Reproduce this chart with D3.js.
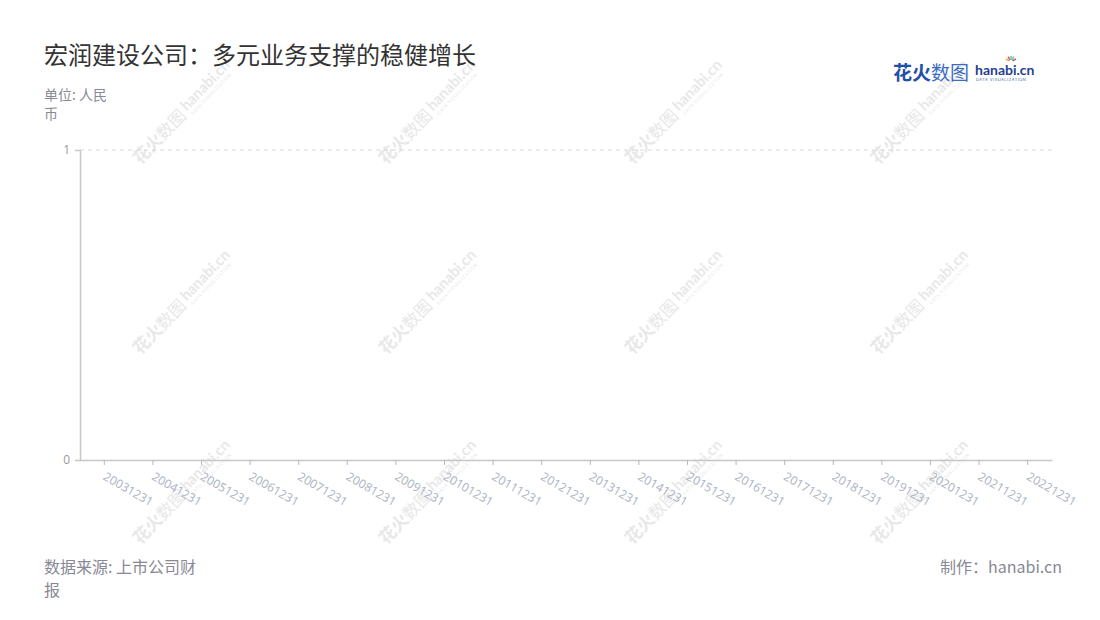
<!DOCTYPE html>
<html>
<head>
<meta charset="utf-8">
<script src="https://cdn.jsdelivr.net/npm/d3@7"></script>
<style>
  html, body { margin: 0; padding: 0; background: #fff; }
  svg { display: block; font-family: "Noto Sans CJK SC", "Noto Sans", sans-serif; }
</style>
</head>
<body>
<svg id="chart" width="1100" height="620"></svg>
<script>
// Data
const categories = ["20031231", "20041231", "20051231", "20061231", "20071231", "20081231",
    "20091231", "20101231", "20111231", "20121231", "20131231", "20141231", "20151231",
    "20161231", "20171231", "20181231", "20191231", "20201231", "20211231", "20221231"];
// no values shown in the chart, every period is empty
const values = [null, null, null, null, null, null, null, null, null, null,
    null, null, null, null, null, null, null, null, null, null];
const yTicks = [0, 1];

const title = "宏润建设公司：多元业务支撑的稳健增长";
const unitLines = ["单位: 人民", "币"];
const sourceLines = ["数据来源: 上市公司财", "报"];
const credit = "制作：hanabi.cn";

function drawChart() {
    const svg = d3.select("#chart");
    const margin = { left: 80, right: 48, top: 150, bottom: 160 };
    const width = 1100, height = 620;

    // Watermarks
    const wmCols = [181, 427, 673, 919];
    const wmRows = [113, 303, 493];
    const wm = svg.append("g").attr("class", "watermarks");
    wmRows.forEach(cy => wmCols.forEach(cx => {
        const g = wm.append("g")
            .attr("transform", `translate(${cx},${cy}) rotate(-46)`)
            .attr("fill", "#e8e8e8");
        g.append("text").attr("x", -66).attr("y", 7)
            .style("font-size", "17px").style("font-weight", "bold").text("花火");
        g.append("text").attr("x", -32).attr("y", 7)
            .style("font-size", "17px").text("数图");
        g.append("text").attr("x", 5).attr("y", 3)
            .style("font-size", "15px").style("font-weight", "bold")
            .style("font-family", "Lato, sans-serif").text("hanabi.cn");
        g.append("text").attr("x", 7).attr("y", 10)
            .style("font-size", "4.5px").style("letter-spacing", "0.5px")
            .style("font-family", "Inter, sans-serif").text("DATA VISUALIZATION");
    }));

    // Title and notes
    svg.append("text").attr("x", 44).attr("y", 64)
        .attr("fill", "#333").style("font-size", "24px").text(title);
    unitLines.forEach((t, i) => {
        svg.append("text").attr("x", 44).attr("y", 100 + i * 19)
            .attr("fill", "#8a8a96").style("font-size", "14px").text(t);
    });
    sourceLines.forEach((t, i) => {
        svg.append("text").attr("x", 44).attr("y", 573 + i * 23)
            .attr("fill", "#888896").style("font-size", "16px").text(t);
    });
    svg.append("text").attr("x", 1062).attr("y", 573).attr("text-anchor", "end")
        .attr("fill", "#888896").style("font-size", "16px").text(credit);

    // Logo
    const logo = svg.append("g").attr("transform", "translate(893,80)");
    logo.append("text").attr("x", 0).attr("y", 0).attr("fill", "#1f4fa8")
        .style("font-size", "19px").style("font-weight", "bold").text("花火");
    logo.append("text").attr("x", 38).attr("y", 0).attr("fill", "#3a6cc4")
        .style("font-size", "19px").text("数图");
    logo.append("text").attr("x", 82).attr("y", -5).attr("fill", "#1f3f8f")
        .style("font-size", "14px").style("font-weight", "bold")
        .style("font-family", "Lato, sans-serif").text("hanabi.cn");
    logo.append("text").attr("x", 83).attr("y", 1).attr("fill", "#4a6aa8")
        .style("font-size", "4px").style("letter-spacing", "0.5px")
        .style("font-family", "Inter, sans-serif").text("DATA VISUALIZATION");
    const sparks = ["#f5a623", "#e94e77", "#4cc3d9", "#7ed321", "#9b59b6"];
    sparks.forEach((c, i) => {
        const a = -Math.PI / 2 + (i - 2) * 0.5;
        logo.append("line")
            .attr("x1", 118 + Math.cos(a) * 2).attr("y1", -18 + Math.sin(a) * 2)
            .attr("x2", 118 + Math.cos(a) * 6).attr("y2", -18 + Math.sin(a) * 6)
            .attr("stroke", c).attr("stroke-width", 1.5);
    });

    // Scales
    const x = d3.scaleBand()
        .domain(categories)
        .range([margin.left, width - margin.right]);
    const y = d3.scaleLinear()
        .domain(d3.extent(yTicks))
        .range([height - margin.bottom, margin.top]);

    // Grid
    svg.append("g")
        .selectAll("line")
        .data(yTicks.filter(d => d > 0))
        .join("line")
        .attr("x1", margin.left).attr("x2", width - margin.right)
        .attr("y1", d => y(d)).attr("y2", d => y(d))
        .attr("stroke", "#d8d8d8").attr("stroke-dasharray", "4,4");

    // Bars (none drawn: no values)
    svg.append("g")
        .selectAll("rect")
        .data(categories.map((c, i) => ({ c, v: values[i] })).filter(d => d.v != null))
        .join("rect")
        .attr("x", d => x(d.c) + x.bandwidth() * 0.2)
        .attr("width", x.bandwidth() * 0.6)
        .attr("y", d => y(d.v))
        .attr("height", d => y(0) - y(d.v))
        .attr("fill", "#3a6cc4");

    // Y axis
    const yAxis = svg.append("g")
        .attr("transform", `translate(${margin.left},0)`)
        .call(d3.axisLeft(y).tickValues(yTicks).tickFormat(d3.format("d")).tickSize(5).tickPadding(5));
    yAxis.select(".domain").attr("stroke", "#c8c8c8").attr("stroke-width", 1.5);
    yAxis.selectAll(".tick line").attr("stroke", "#c8c8c8");
    yAxis.selectAll(".tick text").attr("fill", "#999").style("font-size", "12px")
        .style("font-family", "'Open Sans', sans-serif");

    // X axis
    const xAxis = svg.append("g")
        .attr("transform", `translate(0,${height - margin.bottom})`)
        .call(d3.axisBottom(x).tickSize(5).tickSizeOuter(0));
    xAxis.select(".domain").attr("stroke", "#c8c8c8").attr("stroke-width", 1.5);
    xAxis.selectAll(".tick line").attr("stroke", "#b8b8b8");
    xAxis.selectAll(".tick text")
        .attr("fill", "#aab1c2")
        .style("font-size", "12px")
        .style("font-family", "'Open Sans', sans-serif")
        .attr("text-anchor", "start")
        .attr("dy", null)
        .attr("y", 0)
        .attr("transform", "translate(-2,19) rotate(30)");
}

drawChart();
</script>
</body>
</html>
